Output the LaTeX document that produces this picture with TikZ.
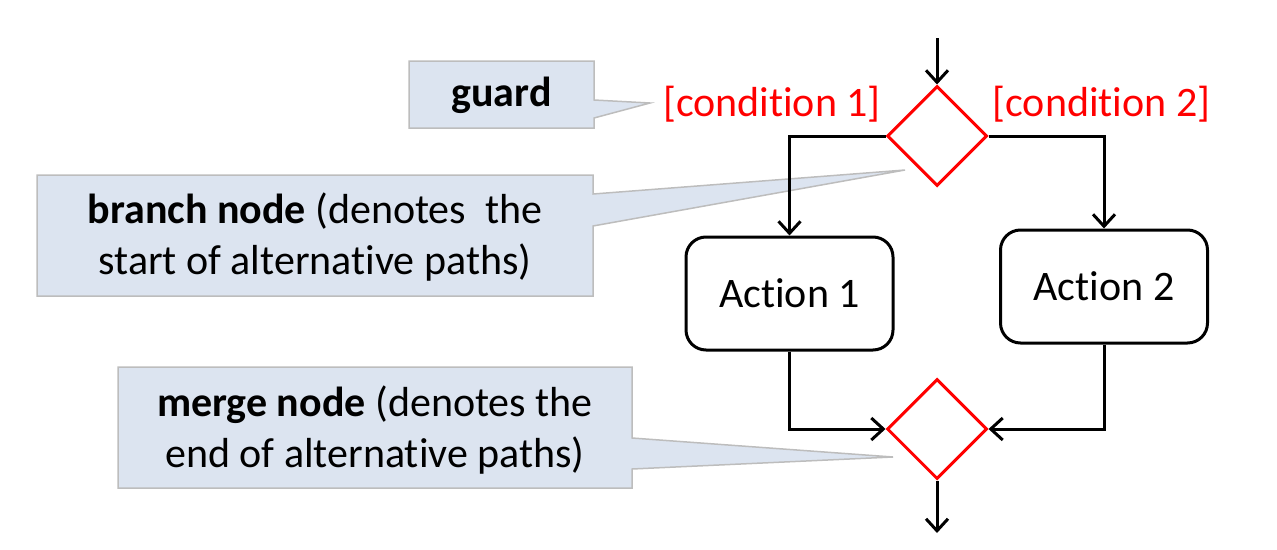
\documentclass[tikz,border=0pt]{standalone}
\usepackage{fontspec}
\setmainfont{Carlito}[Ligatures={NoCommon,NoContextual}]
\usetikzlibrary{shapes.geometric,arrows.meta}
\definecolor{callfill}{HTML}{DCE4F0}
\definecolor{callline}{HTML}{BDBDBD}
\definecolor{cred}{HTML}{FF0000}
\tikzset{
  callshape/.style={fill=callfill,draw=callline,line width=1.5pt,line join=miter},
  calltext/.style={align=center,font=\fontsize{42}{51}\selectfont,inner sep=0pt},
  decision/.style={diamond,draw=cred,fill=white,line width=3pt,minimum width=100pt,minimum height=100pt,inner sep=0pt,aspect=1},
  actbox/.style={rectangle,rounded corners=20pt,draw=black,line width=3pt,minimum width=207pt,minimum height=113pt,font=\fontsize{42}{51}\selectfont},
  condtext/.style={text=cred,font=\fontsize{42}{51}\selectfont,inner sep=0pt},
  flow/.style={draw=black,line width=3pt,-{Straight Barb[length=12pt,width=22pt]}}
}
\begin{document}
\begin{tikzpicture}[x=1pt,y=-1pt]
\useasboundingbox (0,0) rectangle (1277,549);
% callout shapes
\path[callshape] (409,61) -- (594,61) -- (594,100) -- (650,103) -- (594,118) -- (594,128) -- (409,128) -- cycle;
\path[callshape] (37,175) -- (593,175) -- (593,194) -- (905,170) -- (593,226) -- (593,296) -- (37,296) -- cycle;
\path[callshape] (118,367) -- (632,367) -- (632,438) -- (893,457) -- (632,469) -- (632,488) -- (118,488) -- cycle;
\node[calltext] (tguard) at (501.5,95) {\textbf{guard}};
\node[calltext] (tbranch) at (315,237) {\textbf{branch node} (denotes\ \ the\\start of alternative paths)};
\node[calltext] (tmerge) at (375,430) {\textbf{merge node} (denotes the\\end of alternative paths)};
% flow nodes
\node[decision] (d1) at (937,136) {};
\node[decision] (d2) at (937,429) {};
\node[actbox] (a1) at (789.5,293.5) {Action 1};
\node[actbox] (a2) at (1104,286.5) {Action 2};
\node[condtext] (c1) at (772,104) {[condition 1]};
\node[condtext] (c2) at (1101.5,104) {[condition 2]};
\coordinate (start) at (937,38);
\coordinate (finish) at (937,533);
% connectors
\draw[flow] (start) -- (d1.north);
\draw[flow] (d1.west) -| (a1.north);
\draw[flow] (d1.east) -| (a2.north);
\draw[flow] (a1.south) |- (d2.west);
\draw[flow] (a2.south) |- (d2.east);
\draw[flow] (d2.south) -- (finish);
\end{tikzpicture}
\end{document}
